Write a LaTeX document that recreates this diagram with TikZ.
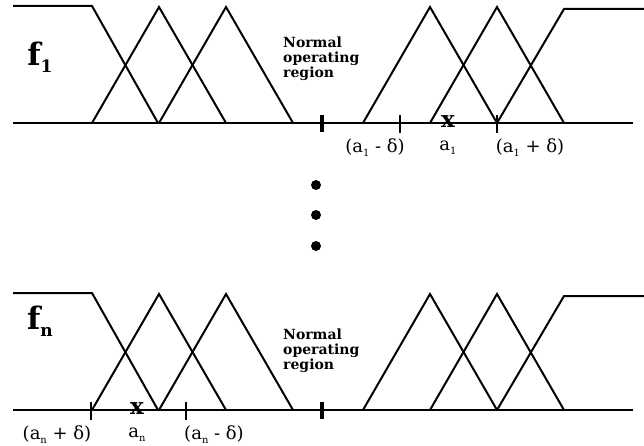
\documentclass[tikz,border=0pt]{standalone}
\usepackage{fontspec}
\setmainfont{DejaVu Serif}
\usetikzlibrary{positioning}

\newcommand{\lsub}[1]{\raisebox{-0.45ex}{\scalebox{0.55}{#1}}}

\begin{document}
\begin{tikzpicture}[
x=1pt, y=-1pt,
curve/.style={line width=2pt, line join=miter},
thintick/.style={line width=1.2pt},
thicktick/.style={line width=3.4pt},
tag/.style={font=\fontsize{18}{20}\selectfont, inner sep=0pt},
region/.style={font=\fontsize{14}{15}\selectfont\bfseries, align=left, inner sep=0pt, anchor=west},
fname/.style={font=\fontsize{31}{31}\selectfont\bfseries, inner sep=0pt},
xmark/.style={font=\fontsize{23}{23}\selectfont\bfseries, inner sep=0pt},
dot/.style={circle, fill=black, minimum size=10pt, inner sep=0pt}
]
\useasboundingbox (0,0) rectangle (644,446);

% the two rows of membership functions
\foreach \y in {123,410} {
  \draw[curve] (13,\y) -- (633,\y);
  \draw[curve] (13,\y-117) -- (92,\y-117) -- (158,\y);
  \foreach \s in {92,159,363,430}
    \draw[curve] (\s,\y) -- (\s+67,\y-116) -- (\s+134,\y);
  \draw[curve] (497,\y) -- (564,\y-114) -- (644,\y-114);
  \draw[thicktick] (322,\y-8) -- (322,\y+9);
}

% row f1
\node[fname] (f1) at (40,57) {f\lsub{1}};
\node[region] (reg1) at (283,59) {Normal\\operating\\region};
\draw[thintick] (400,115) -- (400,133);
\draw[thintick] (497,115) -- (497,133);
\node[xmark] (x1) at (448,122) {x};
\node[tag] (lo1) at (375,148) {(a\lsub{1} - δ)};
\node[tag] (a1) at (448,148) {a\lsub{1}};
\node[tag] (hi1) at (530,148) {(a\lsub{1} + δ)};

% dots
\node[dot] (d1) at (316,185) {};
\node[dot] (d2) at (316,215) {};
\node[dot] (d3) at (316,246) {};

% row fn
\node[fname] (fn) at (40,321) {f\lsub{n}};
\node[region] (regn) at (283,351) {Normal\\operating\\region};
\draw[thintick] (91,402) -- (91,420);
\draw[thintick] (186,402) -- (186,420);
\node[xmark] (xn) at (137,409) {x};
\node[tag] (hin) at (57,435) {(a\lsub{n} + δ)};
\node[tag] (an) at (137,435) {a\lsub{n}};
\node[tag] (lon) at (214,435) {(a\lsub{n} - δ)};
\end{tikzpicture}
\end{document}
